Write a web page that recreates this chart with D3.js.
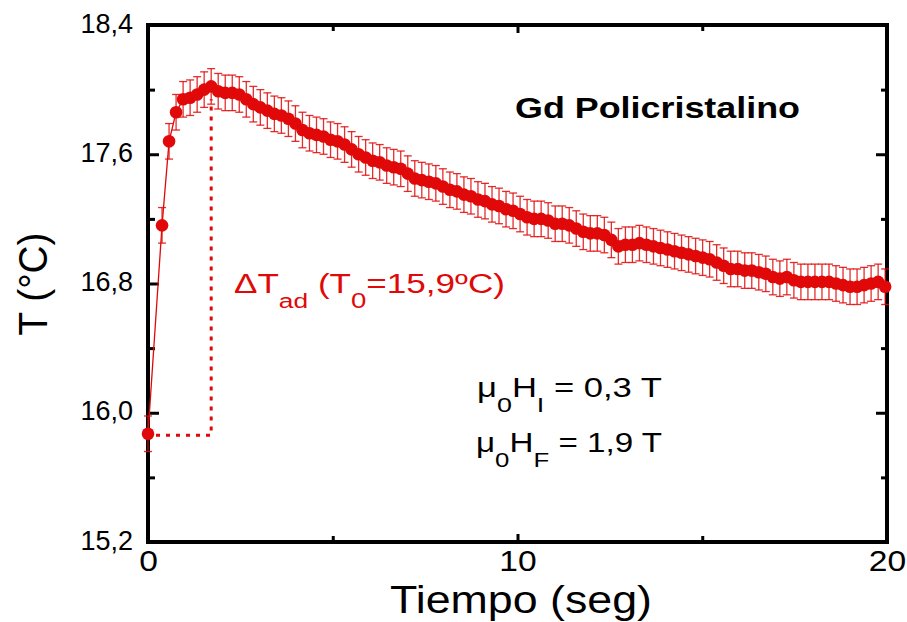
<!DOCTYPE html>
<html>
<head>
<meta charset="utf-8">
<script src="https://cdn.jsdelivr.net/npm/d3@7"></script>
<style>
  body { margin: 0; background: #fff; }
  svg { display: block; font-family: "Liberation Sans", Arial, sans-serif; }
</style>
</head>
<body>
<script>
var width = 907, height = 622;

// time (s) and temperature (ºC)
var tiempo = [0, 0.38, 0.57, 0.76, 0.95, 1.14, 1.33, 1.52, 1.71, 1.90, 2.09, 2.28, 2.47, 2.66, 2.85,
  3.04, 3.23, 3.42, 3.61, 3.80, 3.99, 4.18, 4.37, 4.56, 4.75, 4.94, 5.13, 5.32, 5.51, 5.70, 5.89,
  6.08, 6.27, 6.46, 6.65, 6.84, 7.03, 7.22, 7.41, 7.60, 7.79, 7.98, 8.17, 8.36, 8.55, 8.74, 8.93,
  9.12, 9.31, 9.50, 9.69, 9.88, 10.07, 10.26, 10.45, 10.64, 10.83, 11.02, 11.21, 11.40, 11.59, 11.78,
  11.97, 12.16, 12.35, 12.54, 12.73, 12.92, 13.11, 13.30, 13.49, 13.68, 13.87, 14.06, 14.25, 14.44,
  14.63, 14.82, 15.01, 15.20, 15.39, 15.58, 15.77, 15.96, 16.15, 16.34, 16.53, 16.72, 16.91, 17.10,
  17.29, 17.48, 17.67, 17.86, 18.05, 18.24, 18.43, 18.62, 18.81, 19.00, 19.19, 19.38, 19.57, 19.76, 19.95];

var temperatura = [15.87, 17.16, 17.68, 17.86, 17.94, 17.95, 17.97, 18.00, 18.02, 17.99, 17.98, 17.98, 17.97, 17.94, 17.91,
  17.89, 17.87, 17.85, 17.84, 17.82, 17.79, 17.75, 17.73, 17.72, 17.71, 17.69, 17.68, 17.66, 17.63, 17.60, 17.58,
  17.56, 17.55, 17.53, 17.52, 17.51, 17.48, 17.45, 17.44, 17.43, 17.42, 17.40, 17.38, 17.37, 17.35, 17.34, 17.32,
  17.31, 17.29, 17.28, 17.26, 17.25, 17.23, 17.21, 17.20, 17.20, 17.19, 17.17, 17.17, 17.16, 17.14, 17.12,
  17.11, 17.11, 17.10, 17.07, 17.03, 17.04, 17.04, 17.05, 17.04, 17.03, 17.02, 17.01, 17.00, 16.99,
  16.98, 16.97, 16.96, 16.95, 16.93, 16.91, 16.89, 16.89, 16.88, 16.88, 16.87, 16.86, 16.84, 16.83,
  16.84, 16.82, 16.81, 16.81, 16.81, 16.81, 16.81, 16.80, 16.79, 16.78, 16.78, 16.79, 16.80, 16.81, 16.78];

var errT = 0.11;   // half height of the error bars (ºC)

var xMajor = [0, 10, 20], xMinor = [5, 15];
var yMajor = [15.2, 16.0, 16.8, 17.6, 18.4], yMinor = [15.6, 16.4, 17.2, 18.0];

// ΔTad guide: peak time, top of the guide, T0 level
var tPico = 1.71, tempGuia = 17.94, tempInicial = 15.86;

var rojo = "#e00808";

var x = d3.scaleLinear().domain([0, 20]).range([148, 887]);
var y = d3.scaleLinear().domain([15.2, 18.4]).range([542, 25]);

var svg = d3.select("body").append("svg")
    .attr("width", width)
    .attr("height", height);

var coma = d => d3.format(".1f")(d).replace(".", ",");

// ticks (all pointing inwards), drawn with d3 axes
function ticks(axis, tr, labels) {
  var g = svg.append("g").attr("transform", tr).call(axis);
  g.select(".domain").remove();
  g.selectAll(".tick line").attr("stroke", "#000").attr("stroke-width", 3);
  if (!labels) g.selectAll(".tick text").remove();
  return g;
}

var gx = ticks(d3.axisBottom(x).tickValues(xMajor).tickSize(-8).tickPadding(8).tickFormat(d3.format("d")), "translate(0,542)", true);
gx.selectAll(".tick text")
    .attr("font-size", 30).attr("fill", "#000")
    .attr("font-family", "Liberation Sans, Arial, sans-serif")
    .attr("transform", "scale(1.12,1)");
ticks(d3.axisBottom(x).tickValues(xMinor).tickSize(-6), "translate(0,542)");
ticks(d3.axisTop(x).tickValues(xMajor).tickSize(-8), "translate(0,25)");
ticks(d3.axisTop(x).tickValues(xMinor).tickSize(-6), "translate(0,25)");

var gy = ticks(d3.axisLeft(y).tickValues(yMajor).tickSize(-11).tickPadding(15).tickFormat(coma), "translate(148,0)", true);
gy.selectAll(".tick text")
    .attr("font-size", 27).attr("fill", "#000").attr("dy", "0.26em")
    .attr("font-family", "Liberation Sans, Arial, sans-serif");
ticks(d3.axisLeft(y).tickValues(yMinor).tickSize(-7), "translate(148,0)");
ticks(d3.axisRight(y).tickValues(yMajor).tickSize(-11), "translate(887,0)");
ticks(d3.axisRight(y).tickValues(yMinor).tickSize(-6), "translate(887,0)");

// frame
svg.append("rect")
    .attr("x", x(0)).attr("y", y(18.4))
    .attr("width", x(20) - x(0)).attr("height", y(15.2) - y(18.4))
    .attr("fill", "none").attr("stroke", "#000").attr("stroke-width", 4);

var puntos = tiempo.map((t, i) => ({t: t, T: temperatura[i]}));

// connecting line
svg.append("path")
    .datum(puntos)
    .attr("fill", "none")
    .attr("stroke", rojo)
    .attr("stroke-width", 1.3)
    .attr("d", d3.line().x(d => x(d.t)).y(d => y(d.T)));

// error bars
var eb = svg.append("g").attr("stroke", rojo).attr("stroke-width", 1.3).attr("stroke-opacity", 0.85);
eb.selectAll("line.v").data(puntos).join("line").attr("class", "v")
    .attr("x1", d => x(d.t)).attr("x2", d => x(d.t))
    .attr("y1", d => y(d.T - errT)).attr("y2", d => y(d.T + errT));
eb.selectAll("line.top").data(puntos).join("line").attr("class", "top")
    .attr("x1", d => x(d.t) - 4).attr("x2", d => x(d.t) + 4)
    .attr("y1", d => y(d.T + errT)).attr("y2", d => y(d.T + errT));
eb.selectAll("line.bot").data(puntos).join("line").attr("class", "bot")
    .attr("x1", d => x(d.t) - 4).attr("x2", d => x(d.t) + 4)
    .attr("y1", d => y(d.T - errT)).attr("y2", d => y(d.T - errT));

// dots
svg.append("g").attr("fill", rojo)
  .selectAll("circle").data(puntos).join("circle")
    .attr("cx", d => x(d.t)).attr("cy", d => y(d.T)).attr("r", 6.3);

// ΔTad guide (dotted)
svg.append("path")
    .attr("fill", "none").attr("stroke", rojo).attr("stroke-width", 3)
    .attr("stroke-dasharray", "4,6")
    .attr("d", d3.line()([[x(0) + 8, y(tempInicial)], [x(tPico), y(tempInicial)], [x(tPico), y(tempGuia)]]));

// text helper: stretch horizontally to a given width
function texto(xp, yp, w, anchor, build, fs, weight, fill) {
  var g = svg.append("g");
  var t = g.append("text")
      .attr("font-size", fs)
      .attr("font-weight", weight || "normal")
      .attr("fill", fill || "#000")
      .attr("text-anchor", anchor);
  build(t);
  var bw = t.node().getBBox().width;
  g.attr("transform", `translate(${xp},${yp}) scale(${w / bw},1)`);
  return g;
}

texto(515, 118, 285, "start", t => t.text("Gd Policristalino"), 29, "bold");

texto(234, 293, 271, "start", t => {
  t.append("tspan").text("\u0394T");
  t.append("tspan").attr("font-size", 21).attr("dy", 15).text("ad");
  t.append("tspan").attr("dy", -15).text(" (T");
  t.append("tspan").attr("font-size", 22).attr("dy", 15).text("0");
  t.append("tspan").attr("dy", -15).text("=15,9\u00baC)");
}, 28, "normal", rojo);

texto(477, 397, 185, "start", t => {
  t.append("tspan").text("\u03bc");
  t.append("tspan").attr("font-size", 21).attr("dy", 15).text("0");
  t.append("tspan").attr("dy", -15).text("H");
  t.append("tspan").attr("font-size", 21).attr("dy", 15).text("I");
  t.append("tspan").attr("dy", -15).text(" = 0,3 T");
}, 27);

texto(476, 452, 186, "start", t => {
  t.append("tspan").text("\u03bc");
  t.append("tspan").attr("font-size", 21).attr("dy", 15).text("0");
  t.append("tspan").attr("dy", -15).text("H");
  t.append("tspan").attr("font-size", 21).attr("dy", 15).text("F");
  t.append("tspan").attr("dy", -15).text(" = 1,9 T");
}, 27);

// axis titles
texto(521, 613, 262, "middle", t => t.text("Tiempo (seg)"), 38);

var gt = svg.append("g");
var tt = gt.append("text").attr("font-size", 37).attr("text-anchor", "middle").text("T (\u00b0C)");
var tw = tt.node().getBBox().width;
gt.attr("transform", `translate(47,284) rotate(-90) scale(${103 / tw},1.1)`);
</script>
</body>
</html>
